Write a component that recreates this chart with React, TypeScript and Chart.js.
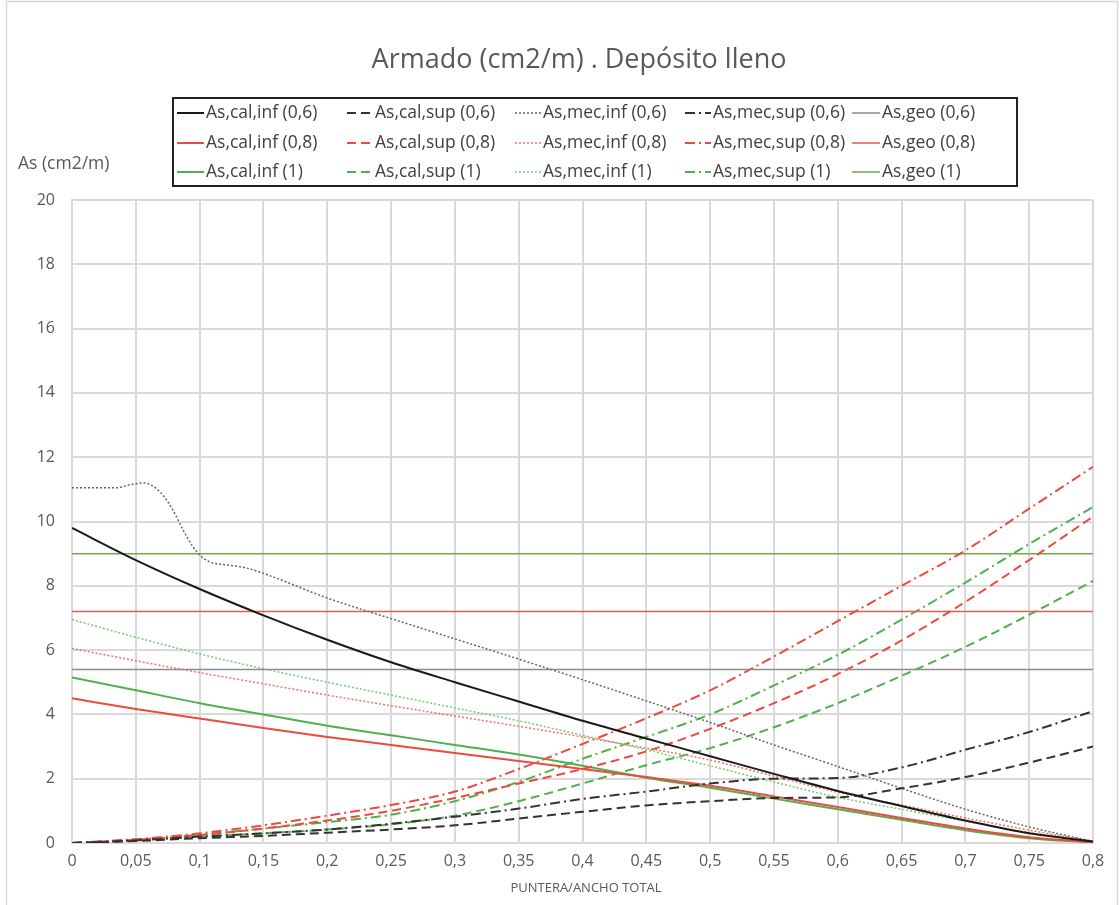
import React, { useEffect, useRef } from "react";
import { Chart, registerables } from "chart.js";

Chart.register(...registerables);

// ---------- DATA ----------
const TITLE = "Armado (cm2/m) . Depósito lleno";
const Y_TITLE = "As (cm2/m)";
const X_TITLE = "PUNTERA/ANCHO TOTAL";

const X = [0, 0.05, 0.1, 0.15, 0.2, 0.25, 0.3, 0.35, 0.4, 0.45, 0.5, 0.55, 0.6, 0.65, 0.7, 0.75, 0.8];
const X_MEC_INF_06 = [0, 0.02, 0.035, 0.045, 0.056, 0.069, 0.079, 0.087, 0.095, 0.1, 0.108, 0.121, 0.137, 0.158, 0.2, 0.25, 0.3, 0.35, 0.4, 0.45, 0.5, 0.55, 0.6, 0.65, 0.7, 0.75, 0.8];
const X_GEO = [0, 0.8];

const CAL_INF_06 = [9.8, 8.8, 7.9, 7.08, 6.32, 5.62, 5.0, 4.4, 3.8, 3.25, 2.7, 2.15, 1.62, 1.15, 0.7, 0.3, 0.05];
const CAL_SUP_06 = [0, 0.06, 0.15, 0.22, 0.32, 0.42, 0.55, 0.76, 0.97, 1.17, 1.3, 1.4, 1.42, 1.7, 2.05, 2.5, 3.0];
const MEC_INF_06 = [11.05, 11.05, 11.05, 11.14, 11.2, 10.92, 10.36, 9.74, 9.2, 8.96, 8.74, 8.65, 8.55, 8.27, 7.62, 6.98, 6.35, 5.72, 5.08, 4.42, 3.75, 3.05, 2.38, 1.7, 1.05, 0.5, 0.05];
const MEC_SUP_06 = [0, 0.08, 0.2, 0.3, 0.42, 0.6, 0.82, 1.07, 1.37, 1.6, 1.85, 2.0, 2.02, 2.35, 2.9, 3.45, 4.1];
const GEO_06 = [5.4, 5.4];

const CAL_INF_08 = [4.5, 4.17, 3.87, 3.58, 3.3, 3.05, 2.8, 2.55, 2.3, 2.05, 1.78, 1.45, 1.12, 0.78, 0.45, 0.18, 0.02];
const CAL_SUP_08 = [0, 0.1, 0.25, 0.45, 0.7, 1.0, 1.4, 1.85, 2.3, 2.85, 3.55, 4.35, 5.25, 6.3, 7.5, 8.8, 10.15];
const MEC_INF_08 = [6.05, 5.67, 5.3, 4.95, 4.6, 4.27, 3.95, 3.63, 3.3, 2.95, 2.58, 2.08, 1.58, 1.18, 0.78, 0.4, 0.05];
const MEC_SUP_08 = [0, 0.12, 0.3, 0.55, 0.85, 1.18, 1.6, 2.3, 3.08, 3.88, 4.75, 5.8, 6.9, 8.0, 9.1, 10.4, 11.7];
const GEO_08 = [7.2, 7.2];

const CAL_INF_1 = [5.15, 4.75, 4.35, 4.0, 3.65, 3.35, 3.05, 2.75, 2.4, 2.03, 1.72, 1.38, 1.05, 0.72, 0.4, 0.15, 0.02];
const CAL_SUP_1 = [0, 0.08, 0.2, 0.3, 0.42, 0.58, 0.85, 1.3, 1.85, 2.42, 2.95, 3.6, 4.35, 5.2, 6.1, 7.1, 8.15];
const MEC_INF_1 = [6.95, 6.4, 5.88, 5.42, 5.0, 4.6, 4.2, 3.8, 3.35, 2.9, 2.4, 1.9, 1.42, 1.05, 0.68, 0.33, 0.05];
const MEC_SUP_1 = [0, 0.1, 0.25, 0.45, 0.65, 0.88, 1.3, 1.9, 2.62, 3.3, 4.0, 4.9, 5.85, 6.95, 8.1, 9.3, 10.45];
const GEO_1 = [9.0, 9.0];

const LABELS = [
  "As,cal,inf (0,6)", "As,cal,sup (0,6)", "As,mec,inf (0,6)", "As,mec,sup (0,6)", "As,geo (0,6)",
  "As,cal,inf (0,8)", "As,cal,sup (0,8)", "As,mec,inf (0,8)", "As,mec,sup (0,8)", "As,geo (0,8)",
  "As,cal,inf (1)", "As,cal,sup (1)", "As,mec,inf (1)", "As,mec,sup (1)", "As,geo (1)",
];

// ---------- STYLES ----------
const FONT = "'Open Sans', Lato, sans-serif";
const TEXT = "#595959";
const BLACK = "#1a1a1a";
const RED = "#ec4a3f";
const GREEN = "#4fb04f";
const DASH = [9, 5];
const DOT = [2, 2];
const DASHDOT = [10, 4, 2, 4];

const pts = (xs: number[], ys: number[]) => xs.map((x, i) => ({ x, y: ys[i] }));

const SERIES = [
  { xs: X, ys: CAL_INF_06, color: BLACK, dash: [], w: 2 },
  { xs: X, ys: CAL_SUP_06, color: "#333333", dash: DASH, w: 2 },
  { xs: X_MEC_INF_06, ys: MEC_INF_06, color: "#666666", dash: DOT, w: 1.5 },
  { xs: X, ys: MEC_SUP_06, color: "#333333", dash: DASHDOT, w: 2 },
  { xs: X_GEO, ys: GEO_06, color: "#8c8c8c", dash: [], w: 1.5 },
  { xs: X, ys: CAL_INF_08, color: RED, dash: [], w: 2 },
  { xs: X, ys: CAL_SUP_08, color: RED, dash: DASH, w: 2 },
  { xs: X, ys: MEC_INF_08, color: "#f07068", dash: DOT, w: 1.5 },
  { xs: X, ys: MEC_SUP_08, color: RED, dash: DASHDOT, w: 2 },
  { xs: X_GEO, ys: GEO_08, color: "#e55a52", dash: [], w: 1.5 },
  { xs: X, ys: CAL_INF_1, color: GREEN, dash: [], w: 2 },
  { xs: X, ys: CAL_SUP_1, color: GREEN, dash: DASH, w: 2 },
  { xs: X, ys: MEC_INF_1, color: "#78c878", dash: DOT, w: 1.5 },
  { xs: X, ys: MEC_SUP_1, color: GREEN, dash: DASHDOT, w: 2 },
  { xs: X_GEO, ys: GEO_1, color: "#6aad45", dash: [], w: 1.5 },
];

const LEG_LINE_X = [177, 347, 515, 685, 852];
const LEG_TEXT_X = [206, 375, 543, 713, 882];
const LEG_ROW_Y = [113, 143, 172];

const decor = {
  id: "decor",
  beforeDraw(chart: any) {
    const ctx = chart.ctx;
    ctx.save();
    ctx.fillStyle = "#ffffff";
    ctx.fillRect(0, 0, chart.width, chart.height);
    ctx.strokeStyle = "#d9d9d9";
    ctx.lineWidth = 1.5;
    ctx.strokeRect(6.5, 1.5, 1111, 920);
    ctx.restore();
  },
  afterDraw(chart: any) {
    const ctx = chart.ctx;
    ctx.save();
    ctx.fillStyle = TEXT;
    ctx.font = `27px ${FONT}`;
    ctx.textAlign = "center";
    ctx.textBaseline = "middle";
    ctx.fillText(TITLE, 579, 60);
    ctx.font = `17.5px ${FONT}`;
    ctx.textAlign = "left";
    ctx.fillText(Y_TITLE, 18, 164);
    ctx.font = `13px ${FONT}`;
    ctx.textAlign = "center";
    ctx.fillText(X_TITLE, 586, 888);
    ctx.strokeStyle = "#222222";
    ctx.lineWidth = 2;
    ctx.strokeRect(173, 98, 844, 88);
    chart.data.datasets.forEach((ds: any, i: number) => {
      const r = Math.floor(i / 5);
      const c = i % 5;
      const y = LEG_ROW_Y[r];
      ctx.save();
      ctx.strokeStyle = ds.borderColor;
      ctx.lineWidth = ds.borderWidth;
      ctx.setLineDash(ds.borderDash || []);
      ctx.beginPath();
      ctx.moveTo(LEG_LINE_X[c], y);
      ctx.lineTo(LEG_TEXT_X[c] - 2, y);
      ctx.stroke();
      ctx.restore();
      ctx.fillStyle = "#404040";
      ctx.font = `17.5px ${FONT}`;
      ctx.textAlign = "left";
      ctx.textBaseline = "middle";
      ctx.fillText(ds.label, LEG_TEXT_X[c], y);
    });
    ctx.restore();
  },
};

export default function App() {
  const ref = useRef<HTMLCanvasElement>(null);
  useEffect(() => {
    const chart = new Chart(ref.current!, {
      type: "line",
      data: {
        datasets: SERIES.map((s, i) => ({
          label: LABELS[i],
          data: pts(s.xs, s.ys),
          borderColor: s.color,
          backgroundColor: s.color,
          borderDash: s.dash,
          borderWidth: s.w,
          pointRadius: 0,
          fill: false,
          cubicInterpolationMode: "monotone" as const,
        })),
      },
      options: {
        animation: false,
        responsive: false,
        devicePixelRatio: 1,
        layout: { padding: { top: 200, left: 8, right: 26, bottom: 0 } },
        plugins: { legend: { display: false }, title: { display: false }, tooltip: { enabled: false } },
        scales: {
          x: {
            type: "linear",
            min: 0,
            max: 0.8,
            ticks: {
              stepSize: 0.05,
              color: TEXT,
              font: { family: FONT, size: 16 },
              padding: 9,
              callback: (v: any) => String(Number(Number(v).toFixed(2))).replace(".", ","),
            },
            grid: { color: "#d9d9d9", lineWidth: 2, drawTicks: false },
            border: { color: "#d9d9d9", width: 2 },
            afterFit: (s: any) => { s.height = 62; },
          },
          y: {
            min: 0,
            max: 20,
            ticks: {
              stepSize: 2,
              color: TEXT,
              font: { family: FONT, size: 16 },
              padding: 17,
            },
            grid: { color: "#d9d9d9", lineWidth: 2, drawTicks: false },
            border: { color: "#d9d9d9", width: 2 },
            afterFit: (s: any) => { s.width = 64; },
          },
        },
      },
      plugins: [decor],
    });
    return () => chart.destroy();
  }, []);
  return (
    <div style={{ position: "fixed", left: 0, top: 0, width: 1119, height: 905, background: "#fff" }}>
      <canvas ref={ref} width={1119} height={905} style={{ width: 1119, height: 905, display: "block" }} />
    </div>
  );
}
